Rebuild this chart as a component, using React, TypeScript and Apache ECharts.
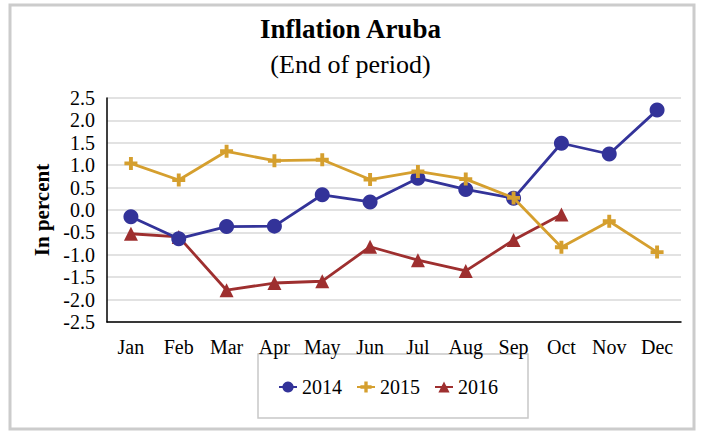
import React, { useEffect, useRef } from "react";
import * as echarts from "echarts";

const months = ["Jan", "Feb", "Mar", "Apr", "May", "Jun", "Jul", "Aug", "Sep", "Oct", "Nov", "Dec"];
const s2014 = [-0.15, -0.64, -0.37, -0.36, 0.34, 0.18, 0.71, 0.46, 0.26, 1.49, 1.25, 2.23];
const s2015 = [1.04, 0.67, 1.31, 1.1, 1.12, 0.68, 0.86, 0.69, 0.27, -0.83, -0.25, -0.94];
const s2016 = [-0.53, -0.6, -1.79, -1.63, -1.59, -0.82, -1.12, -1.36, -0.67, -0.1];
const seriesNames = ["2014", "2015", "2016"];
const colors = ["#333399", "#D59F2E", "#9E2F2F"];

const FONT = "'Liberation Serif', 'Times New Roman', serif";
const PLUS = "path://M3.5,0h3v3.5h3.5v3h-3.5v3.5h-3v-3.5h-3.5v-3h3.5z";

export default function App() {
  const ref = useRef<HTMLDivElement>(null);
  useEffect(() => {
    if (!ref.current) return;
    const chart = echarts.init(ref.current, undefined, { renderer: "svg" });
    chart.setOption({
      animation: false,
      backgroundColor: "#ffffff",
      textStyle: { fontFamily: FONT },
      title: [
        {
          text: "Inflation Aruba",
          left: "center",
          top: 10,
          textStyle: { fontFamily: FONT, fontSize: 27, fontWeight: "bold", color: "#000" },
        },
        {
          text: "(End of period)",
          left: "center",
          top: 46,
          textStyle: { fontFamily: FONT, fontSize: 26, fontWeight: "normal", color: "#000" },
        },
      ],
      graphic: [
        {
          type: "rect",
          shape: { x: 10, y: 5, width: 684, height: 424 },
          style: { fill: "none", stroke: "#cccccc", lineWidth: 3 },
          silent: true,
        },
        {
          type: "rect",
          shape: { x: 258, y: 354, width: 270, height: 64 },
          style: { fill: "#fff", stroke: "#c8c8c8", lineWidth: 1.5 },
          silent: true,
          z: 0,
        },
      ],
      legend: {
        data: seriesNames,
        left: 273,
        top: 372,
        itemGap: 14,
        itemWidth: 18,
        itemHeight: 14,
        textStyle: { fontFamily: FONT, fontSize: 20, color: "#000" },
        z: 5,
      },
      grid: { left: 107, right: 20, top: 98, bottom: 110 },
      xAxis: {
        type: "category",
        data: months,
        boundaryGap: true,
        axisLine: { onZero: false, lineStyle: { color: "#000", width: 1.5 } },
        axisTick: { show: false },
        axisLabel: { fontFamily: FONT, fontSize: 20, color: "#000", margin: 15 },
      },
      yAxis: {
        type: "value",
        min: -2.5,
        max: 2.5,
        interval: 0.5,
        name: "In percent",
        nameLocation: "middle",
        nameGap: 55,
        nameTextStyle: { fontFamily: FONT, fontSize: 21, fontWeight: "bold", color: "#000" },
        axisLine: { show: true, lineStyle: { color: "#000", width: 1.5 } },
        axisTick: { show: false },
        axisLabel: {
          fontFamily: FONT,
          fontSize: 20,
          color: "#000",
          margin: 12,
          formatter: (v: number) => v.toFixed(1),
        },
        splitLine: { show: true, lineStyle: { color: "#d9d9d9", width: 1.5 } },
      },
      series: [
        {
          name: seriesNames[0],
          type: "line",
          data: s2014,
          symbol: "circle",
          symbolSize: 15,
          lineStyle: { color: colors[0], width: 2.8 },
          itemStyle: { color: colors[0] },
          z: 3,
        },
        {
          name: seriesNames[1],
          type: "line",
          data: s2015,
          symbol: PLUS,
          symbolSize: 13,
          lineStyle: { color: colors[1], width: 2.8 },
          itemStyle: { color: colors[1] },
          z: 4,
        },
        {
          name: seriesNames[2],
          type: "line",
          data: s2016,
          symbol: "triangle",
          symbolSize: 14,
          lineStyle: { color: colors[2], width: 2.8 },
          itemStyle: { color: colors[2] },
          z: 2,
        },
      ],
    });
    return () => chart.dispose();
  }, []);
  return (
    <div
      ref={ref}
      style={{ position: "fixed", left: 0, top: 0, width: 701, height: 432 }}
    />
  );
}
